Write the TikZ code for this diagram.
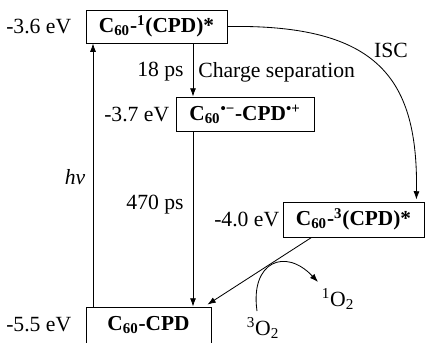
\documentclass[tikz,border=0pt]{standalone}
\usepackage{fontspec}
\setmainfont{Liberation Serif}
\usepackage{tikz}
\usetikzlibrary{arrows.meta,positioning,calc}

\begin{document}
\begin{tikzpicture}[x=0.6pt, y=0.6pt, >={Latex[length=5pt,width=3.6pt]},
  state/.style={draw, line width=0.5pt, inner sep=0pt,
    font=\fontsize{12.8}{15}\selectfont\bfseries},
  energy/.style={font=\fontsize{13}{15}\selectfont, inner sep=0pt},
  note/.style={font=\fontsize{13}{15}\selectfont, inner sep=0pt},
  arr/.style={->, line width=0.5pt}]
\clip (0,0) rectangle (425,342);
% the four levels
\node[state, minimum width=84.6pt, minimum height=19.8pt] (s1) at (156.5,315.5)
  {C\textsubscript{60}-\textsuperscript{1}(CPD)*};
\node[state, minimum width=82.8pt, minimum height=20.4pt] (s2) at (245,228)
  {C\textsubscript{60}\textsuperscript{•−}-CPD\textsuperscript{•+}};
\node[state, minimum width=84.6pt, minimum height=21pt] (s3) at (353.5,122.5)
  {C\textsubscript{60}-\textsuperscript{3}(CPD)*};
\node[state, minimum width=75pt, minimum height=21.6pt] (s4) at (148.5,17)
  {C\textsubscript{60}-CPD};
\node[energy, left=8.4pt of s1] (e1) {-3.6 eV};
\node[energy, left=3.6pt of s2] (e2) {-3.7 eV};
\node[energy, left=1.8pt of s3] (e3) {-4.0 eV};
\node[energy, left=8.4pt of s4] (e4) {-5.5 eV};
% transitions
\coordinate (hvx) at (93,0);
\coordinate (csx) at (193,0);
\draw[arr] (s4.north -| hvx) -- (s1.south -| hvx);
\draw[arr] (s1.south -| csx) -- (s2.north -| csx);
\draw[arr] (s2.south -| csx) -- (s4.north -| csx);
\draw[arr] (s1.east) .. controls (380,318) and (418,262) .. ($(s3.north east)+(-8,2)$);
\draw[arr] ($(s3.south west)+(29,0)$) -- ($(s4.north east)+(-4,2)$);
\node[note, anchor=east] (t18) at (184,270) {18 ps};
\node[note, anchor=west] (tcs) at (198,270) {Charge separation};
\node[note, anchor=east] (t470) at (184,137) {470 ps};
\node[note] (thv) at (75,165) {\textit{hv}};
\node[note] (tisc) at (391,292) {ISC};
% oxygen
\coordinate (ostart) at (257,31);
\coordinate (oend) at (318,60);
\draw[arr] (ostart) .. controls (250,80) and (285,95) .. (oend);
\node[note] (o1) at (338,43) {\textsuperscript{1}O\textsubscript{2}};
\node[note] (o3) at (263,14) {\textsuperscript{3}O\textsubscript{2}};
\end{tikzpicture}
\end{document}
